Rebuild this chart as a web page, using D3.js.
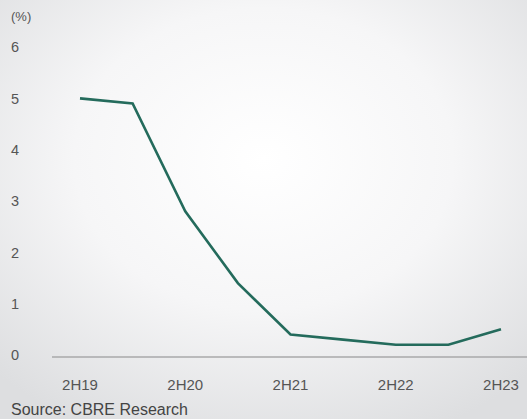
<!DOCTYPE html>
<html><head><meta charset="utf-8">
<script src="https://cdn.jsdelivr.net/npm/d3@7"></script>
<style>html,body{margin:0;padding:0;}svg{display:block;}</style>
</head><body>
<script>
const periods = ["2H19","1H20","2H20","1H21","2H21","1H22","2H22","1H23","2H23"];
const values = [5.0, 4.9, 2.8, 1.4, 0.4, 0.3, 0.2, 0.2, 0.5];
const xTickLabels = ["2H19","2H20","2H21","2H22","2H23"];
const yTicks = [0,1,2,3,4,5,6];

const W = 527, H = 419;
const svg = d3.select("body").append("svg").attr("width", W).attr("height", H);
const defs = svg.append("defs");
const rg = defs.append("radialGradient").attr("id","bg")
  .attr("cx","0.5").attr("cy","0.38").attr("r","0.72");
rg.append("stop").attr("offset","0").attr("stop-color","#ffffff");
rg.append("stop").attr("offset","0.5").attr("stop-color","#f6f6f7");
rg.append("stop").attr("offset","1").attr("stop-color","#dddee0");
svg.append("rect").attr("width",W).attr("height",H).attr("fill","url(#bg)");

const x = d3.scalePoint().domain(periods).range([80, 501]);
const y = d3.scaleLinear().domain([0,6]).range([355, 47]);

const font = "'Liberation Sans', Arial, Helvetica, sans-serif";

// y labels
svg.append("g").selectAll("text").data(yTicks).join("text")
  .attr("x", 11).attr("y", d => y(d)).attr("dy","0.36em")
  .attr("font-family", font).attr("font-size", 14.5).attr("fill", "#555")
  .text(d => d);

svg.append("text").attr("x", 11).attr("y", 21)
  .attr("font-family", font).attr("font-size", 13).attr("fill", "#555").text("(%)");

// baseline
svg.append("line").attr("x1", 52).attr("x2", W).attr("y1", y(0)+2).attr("y2", y(0)+2)
  .attr("stroke", "#a8a8aa").attr("stroke-width", 1.5);

// x labels
svg.append("g").selectAll("text").data(xTickLabels).join("text")
  .attr("x", d => x(d)).attr("y", 390).attr("text-anchor","middle")
  .attr("font-family", font).attr("font-size", 15).attr("fill", "#555")
  .text(d => d);

// line
const line = d3.line().x((d,i) => x(periods[i])).y(d => y(d));
svg.append("path").datum(values).attr("d", line)
  .attr("fill","none").attr("stroke","#246b5c").attr("stroke-width",2.6)
  .attr("stroke-linejoin","miter");

svg.append("text").attr("x", 11).attr("y", 415)
  .attr("font-family", font).attr("font-size", 16).attr("fill", "#444")
  .text("Source: CBRE Research");
</script>
</body></html>
